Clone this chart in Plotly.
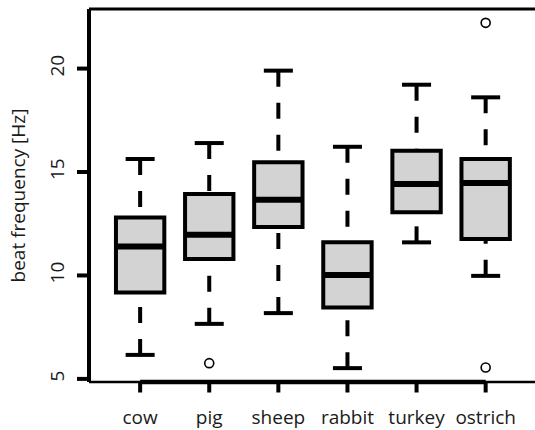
import plotly.graph_objects as go

categories = ["cow", "pig", "sheep", "rabbit", "turkey", "ostrich"]
lower_whisker = [6.16, 7.66, 8.18, 5.52, 11.60, 9.98]
q1 = [9.18, 10.79, 12.34, 8.45, 13.05, 11.76]
median = [11.40, 11.97, 13.66, 10.02, 14.42, 14.47]
q3 = [12.80, 13.94, 15.47, 11.61, 16.03, 15.63]
upper_whisker = [15.63, 16.40, 19.90, 16.22, 19.22, 18.61]
outlier_cat = ["pig", "ostrich", "ostrich"]
outlier_val = [5.76, 22.21, 5.55]
y_ticks = [5, 10, 15, 20]
y_title = "beat frequency [Hz]"

FONT = "Open Sans"
FS = 19
BOX_W = 0.70
STAPLE_HALF = 0.21
PLOT_W, PLOT_H = 446, 373
X_RANGE = [0.26, 6.714]
Y_RANGE = [4.85, 22.88]
TICK_LEN = 12
TICK_W = 4
pos = {c: i + 1 for i, c in enumerate(categories)}


def x_paper(v):
    return (v - X_RANGE[0]) / (X_RANGE[1] - X_RANGE[0])


def y_paper(v):
    return (v - Y_RANGE[0]) / (Y_RANGE[1] - Y_RANGE[0])


fig = go.Figure()

# whiskers (dashed, drawn from whisker end towards box like R)
for c, lw, a, b, uw in zip(categories, lower_whisker, q1, q3, upper_whisker):
    x = pos[c]
    for end, edge in ((lw, a), (uw, b)):
        fig.add_trace(go.Scatter(x=[x, x], y=[end, edge], mode="lines",
                                 line=dict(color="black", width=4, dash="16px,16px"),
                                 hoverinfo="skip", showlegend=False))
        fig.add_trace(go.Scatter(x=[x - STAPLE_HALF, x + STAPLE_HALF], y=[end, end], mode="lines",
                                 line=dict(color="black", width=4),
                                 hoverinfo="skip", showlegend=False))

# boxes
fig.add_trace(go.Box(
    x=[pos[c] for c in categories], q1=q1, median=median, q3=q3,
    lowerfence=q1, upperfence=q3, width=BOX_W,
    fillcolor="#d3d3d3", line=dict(color="black", width=4),
    boxpoints=False, showlegend=False, whiskerwidth=0,
))

# thick medians
for c, m in zip(categories, median):
    x = pos[c]
    fig.add_trace(go.Scatter(x=[x - BOX_W / 2, x + BOX_W / 2], y=[m, m], mode="lines",
                             line=dict(color="black", width=6),
                             hoverinfo="skip", showlegend=False))

# outliers
fig.add_trace(go.Scatter(x=[pos[c] for c in outlier_cat], y=outlier_val, mode="markers",
                         marker=dict(symbol="circle-open", size=9, color="black",
                                     line=dict(width=1.6)),
                         hoverinfo="skip", showlegend=False))

shapes = [
    dict(type="line", xref="paper", yref="paper", x0=0, x1=1, y0=1, y1=1,
         line=dict(color="black", width=3)),
    dict(type="line", xref="paper", yref="paper", x0=0, x1=0, y0=0, y1=1,
         line=dict(color="black", width=4)),
    dict(type="line", xref="paper", yref="paper", x0=0, x1=1, y0=0, y1=0,
         line=dict(color="black", width=2.5)),
    dict(type="line", xref="paper", yref="paper",
         x0=x_paper(pos[categories[0]]), x1=x_paper(pos[categories[-1]]), y0=0, y1=0,
         line=dict(color="black", width=4.5)),
]
# R-style outside tick marks on the y axis (paper-referenced so they are not clipped)
for v in y_ticks:
    yp = y_paper(v)
    shapes.append(dict(type="line", xref="paper", yref="paper", x0=0, x1=-TICK_LEN / PLOT_W,
                       y0=yp, y1=yp, line=dict(color="black", width=TICK_W)))

# R-style outside tick marks on the x axis, drawn as arrow-only annotations
annotations = []
for c in categories:
    annotations.append(dict(
        x=pos[c], xref="x", y=0, yref="paper", text="",
        showarrow=True, arrowhead=0, arrowwidth=TICK_W, arrowcolor="black",
        ax=0, ay=TICK_LEN, axref="pixel", ayref="pixel",
        standoff=0, startstandoff=0,
    ))

fig.update_layout(
    width=535, height=430,
    margin=dict(l=89, r=0, t=9, b=48, autoexpand=False),
    plot_bgcolor="white", paper_bgcolor="white",
    font=dict(family=FONT, size=FS, color="#1a1a1a"),
    shapes=shapes,
    annotations=annotations,
    xaxis=dict(range=X_RANGE, tickmode="array",
               tickvals=[pos[c] for c in categories], ticktext=categories,
               ticks="", ticklabelstandoff=22,
               showgrid=False, zeroline=False, showline=False,
               tickfont=dict(family=FONT, size=FS, color="#1a1a1a")),
    yaxis=dict(range=Y_RANGE, tickmode="array", tickvals=y_ticks,
               ticktext=[str(v) for v in y_ticks], tickangle=-90,
               ticks="", ticklabelstandoff=20,
               showgrid=False, zeroline=False, showline=False,
               tickfont=dict(family=FONT, size=FS, color="#1a1a1a"),
               title=dict(text=y_title, font=dict(family=FONT, size=FS, color="#1a1a1a"),
                          standoff=13)),
)

fig.write_html("out.html", config={"displayModeBar": False, "staticPlot": True},
               post_script="document.body.style.margin='0';document.body.style.overflow='hidden';")
